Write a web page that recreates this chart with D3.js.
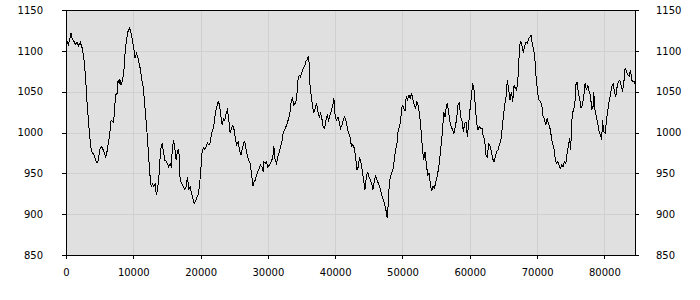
<!DOCTYPE html>
<html>
<head>
<meta charset="utf-8">
<script src="https://cdn.jsdelivr.net/npm/d3@7"></script>
<style>
  body { margin: 0; background: #fff; }
  svg { display: block; }
  .axis text { font-family: "DejaVu Sans", Verdana, sans-serif; font-size: 10px; fill: #000; }
  .axis path, .axis line { stroke: #000; shape-rendering: crispEdges; }
  .grid line { stroke: #d0d0d0; shape-rendering: crispEdges; }
  .frame { fill: none; stroke: #000; shape-rendering: crispEdges; }
  .series { fill: none; stroke: #000; stroke-width: 1; shape-rendering: crispEdges; }
</style>
</head>
<body>
<svg width="700" height="300"></svg>
<script>
const xTicks = [0, 10000, 20000, 30000, 40000, 50000, 60000, 70000, 80000]
const yTicks = [850, 900, 950, 1000, 1050, 1100, 1150]

const steps = [
  0, 150, 350, 550, 750, 900, 1150, 1390, 1640, 1890, 2140, 2380, 2480, 2730, 2930, 3130, 3330, 3520, 3720, 3920,
  4220, 4420, 4620, 4810, 5010, 5310, 5610, 5900, 6100, 6300, 6500, 6700, 6900, 7090, 7190, 7390, 7590, 7740, 7890, 7990,
  8180, 8380, 8580, 8780, 8980, 9180, 9470, 9670, 9870, 10070, 10270, 10460, 10660, 10860, 11060, 11260, 11460, 11650, 11850, 12050,
  12250, 12450, 12650, 12840, 13040, 13240, 13440, 13790, 13880, 14080, 14280, 14480, 14680, 14880, 15070, 15270, 15470, 15670, 15770, 15970,
  16160, 16360, 16560, 16760, 16860, 16960, 17260, 17450, 17650, 17850, 18050, 18250, 18450, 18640, 18840, 19040, 19240, 19440, 19630, 19830,
  20030, 20230, 20430, 20630, 20820, 21020, 21220, 21420, 21620, 21820, 22010, 22210, 22410, 22610, 22810, 23010, 23200, 23400, 23600, 23800,
  24000, 24200, 24390, 24590, 24790, 24990, 25190, 25380, 25580, 25780, 25980, 26180, 26380, 26570, 26770, 26970, 27170, 27370, 27570, 27760,
  27960, 28160, 28310, 28510, 28700, 28900, 29100, 29300, 29400, 29600, 29800, 29990, 30190, 30390, 30590, 30790, 30890, 31080, 31280, 31480,
  31680, 31880, 32080, 32270, 32470, 32670, 32870, 33070, 33270, 33460, 33660, 33860, 34060, 34260, 34450, 34650, 34850, 35050, 35250, 35450,
  35640, 35840, 35990, 36140, 36240, 36440, 36640, 36830, 37030, 37230, 37430, 37630, 37830, 38020, 38220, 38420, 38620, 38820, 39020, 39210,
  39410, 39610, 39810, 40010, 40210, 40400, 40600, 40800, 41000, 41200, 41390, 41590, 41790, 41990, 42190, 42290, 42440, 42630, 42830, 43030,
  43230, 43430, 43620, 43820, 44020, 44220, 44420, 44620, 44810, 45010, 45210, 45410, 45610, 45810, 46000, 46200, 46400, 46600, 46800, 47000,
  47190, 47390, 47590, 47740, 47890, 47990, 48190, 48380, 48580, 48780, 48980, 49180, 49370, 49570, 49770, 49970, 50170, 50370, 50560, 50760,
  50960, 51160, 51360, 51560, 51750, 51950, 52150, 52350, 52550, 52750, 52940, 53140, 53340, 53540, 53740, 53940, 54130, 54330, 54530, 54730,
  54930, 55130, 55320, 55520, 55720, 55920, 56120, 56310, 56460, 56660, 56860, 57060, 57260, 57450, 57650, 57850, 58050, 58250, 58450, 58640,
  58840, 59040, 59240, 59440, 59640, 59830, 60030, 60230, 60430, 60630, 60830, 61020, 61220, 61420, 61620, 61820, 62010, 62210, 62410, 62610,
  62810, 63010, 63200, 63400, 63600, 63800, 64000, 64200, 64390, 64590, 64790, 64990, 65190, 65390, 65580, 65780, 65980, 66180, 66380, 66580,
  66770, 66970, 67170, 67270, 67370, 67570, 67720, 67960, 68110, 68360, 68560, 68760, 68950, 69100, 69250, 69450, 69650, 69850, 70050, 70240,
  70490, 70690, 70890, 71090, 71280, 71480, 71680, 71880, 72080, 72280, 72470, 72670, 72870, 73070, 73270, 73460, 73660, 73860, 74060, 74260,
  74460, 74650, 74850, 74950, 75050, 75150, 75250, 75450, 75650, 75750, 75940, 76140, 76340, 76540, 76740, 76930, 77130, 77330, 77530, 77730,
  77930, 78120, 78320, 78420, 78620, 78820, 79020, 79220, 79410, 79610, 79710, 79910, 80110, 80310, 80500, 80700, 80900, 81100, 81300, 81500,
  81690, 81890, 82090, 82290, 82490, 82690, 82880, 83080, 83280, 83480, 83680, 83880, 84070, 84270, 84470, 84550
]

const values = [
  1100, 1112, 1108, 1114, 1122, 1116, 1112, 1108, 1110, 1106, 1110, 1104, 1101, 1085, 1064, 1036, 1015, 995, 981, 975,
  972, 966, 963, 966, 979, 983, 977, 970, 977, 987, 999, 1015, 1014, 1012, 1028, 1046, 1048, 1064, 1060, 1065,
  1058, 1064, 1073, 1097, 1113, 1123, 1128, 1121, 1113, 1103, 1091, 1097, 1093, 1085, 1077, 1065, 1056, 1040, 1019, 999,
  975, 950, 934, 937, 934, 937, 923, 942, 958, 979, 987, 977, 966, 965, 962, 958, 962, 957, 977, 991,
  981, 966, 977, 979, 962, 942, 936, 934, 930, 934, 946, 930, 934, 926, 920, 913, 916, 920, 924, 934,
  954, 977, 981, 979, 983, 987, 985, 987, 999, 1003, 1011, 1025, 1032, 1038, 1034, 1020, 1009, 1017, 1015, 1024,
  1028, 1015, 999, 1005, 1009, 1003, 991, 985, 989, 979, 972, 979, 987, 989, 979, 971, 966, 962, 950, 934,
  940, 942, 948, 952, 956, 960, 958, 952, 964, 962, 964, 958, 960, 962, 966, 974, 983, 966, 962, 970,
  976, 983, 989, 999, 1003, 1007, 1011, 1017, 1024, 1038, 1042, 1034, 1036, 1040, 1064, 1070, 1068, 1074, 1079, 1081,
  1087, 1089, 1093, 1085, 1060, 1044, 1032, 1024, 1030, 1036, 1026, 1019, 1024, 1017, 1007, 1005, 1015, 1021, 1015, 1021,
  1026, 1032, 1042, 1019, 1015, 1019, 1013, 1005, 1009, 1015, 1019, 1015, 1007, 999, 995, 989, 983, 985, 981, 970,
  954, 958, 970, 964, 954, 942, 930, 944, 952, 946, 942, 938, 930, 940, 948, 942, 938, 934, 928, 921,
  917, 911, 903, 895, 913, 930, 946, 950, 954, 966, 979, 987, 1003, 1007, 1019, 1034, 1030, 1026, 1044, 1040,
  1046, 1042, 1048, 1040, 1034, 1030, 1038, 1032, 1022, 1003, 983, 966, 976, 962, 948, 950, 938, 928, 934, 932,
  938, 946, 954, 966, 983, 999, 1025, 1019, 1028, 1036, 1024, 1013, 1007, 1003, 999, 1007, 1017, 1034, 1036, 1019,
  1015, 1001, 1011, 1013, 995, 1011, 1028, 1044, 1060, 1052, 1032, 1011, 1003, 1007, 1005, 1005, 995, 991, 972, 970,
  987, 983, 977, 968, 964, 970, 977, 979, 985, 989, 1003, 1019, 1034, 1044, 1064, 1052, 1040, 1050, 1038, 1058,
  1054, 1052, 1068, 1081, 1105, 1111, 1108, 1097, 1105, 1111, 1109, 1115, 1117, 1119, 1111, 1103, 1093, 1068, 1052, 1040,
  1038, 1034, 1019, 1017, 1009, 1017, 1011, 1007, 997, 987, 983, 970, 962, 964, 960, 956, 960, 958, 964, 962,
  974, 983, 993, 979, 991, 1011, 1024, 1028, 1040, 1058, 1062, 1048, 1040, 1030, 1034, 1044, 1060, 1052, 1058, 1050,
  1046, 1028, 1032, 1050, 1026, 1019, 1011, 1001, 997, 991, 1015, 1001, 999, 1015, 1026, 1038, 1046, 1056, 1060, 1050,
  1044, 1056, 1062, 1064, 1058, 1050, 1060, 1079, 1075, 1071, 1069, 1077, 1064, 1062, 1062, 1060
]

const data = steps.map((s, i) => ({ x: s, y: values[i] }))

const margin = { top: 10, right: 65, bottom: 45, left: 66 }
const width = 700
const height = 300
const innerW = width - margin.left - margin.right
const innerH = height - margin.top - margin.bottom

const svg = d3.select("svg")
const g = svg.append("g")
  .attr("transform", `translate(${margin.left},${margin.top})`)

const x = d3.scaleLinear()
  .domain([0, 84550])
  .range([0, innerW])

const y = d3.scaleLinear()
  .domain([850, 1150])
  .range([innerH, 0])

g.append("rect")
  .attr("width", innerW)
  .attr("height", innerH)
  .attr("fill", "#e0e0e0")

// grid
g.append("g")
  .attr("class", "grid")
  .selectAll("line.h")
  .data(yTicks)
  .enter().append("line")
  .attr("x1", 0)
  .attr("x2", innerW)
  .attr("y1", d => Math.round(y(d)) + 0.5)
  .attr("y2", d => Math.round(y(d)) + 0.5)

g.append("g")
  .attr("class", "grid")
  .selectAll("line.v")
  .data(xTicks)
  .enter().append("line")
  .attr("y1", 0)
  .attr("y2", innerH)
  .attr("x1", d => Math.round(x(d)) + 0.5)
  .attr("x2", d => Math.round(x(d)) + 0.5)

const line = d3.line()
  .x(d => x(d.x))
  .y(d => y(d.y))

g.append("path")
  .datum(data)
  .attr("class", "series")
  .attr("d", line)

g.append("rect")
  .attr("class", "frame")
  .attr("x", 0.5)
  .attr("y", 0.5)
  .attr("width", innerW)
  .attr("height", innerH)

g.append("g")
  .attr("class", "axis")
  .call(d3.axisLeft(y).tickValues(yTicks).tickSize(4).tickPadding(19).tickFormat(d3.format("d")))

g.append("g")
  .attr("class", "axis")
  .attr("transform", `translate(${innerW},0)`)
  .call(d3.axisRight(y).tickValues(yTicks).tickSize(4).tickPadding(17).tickFormat(d3.format("d")))

g.append("g")
  .attr("class", "axis")
  .attr("transform", `translate(0,${innerH})`)
  .call(d3.axisBottom(x).tickValues(xTicks).tickSize(4).tickPadding(10).tickFormat(d3.format("d")))

g.selectAll(".axis .domain").remove()
</script>
</body>
</html>
